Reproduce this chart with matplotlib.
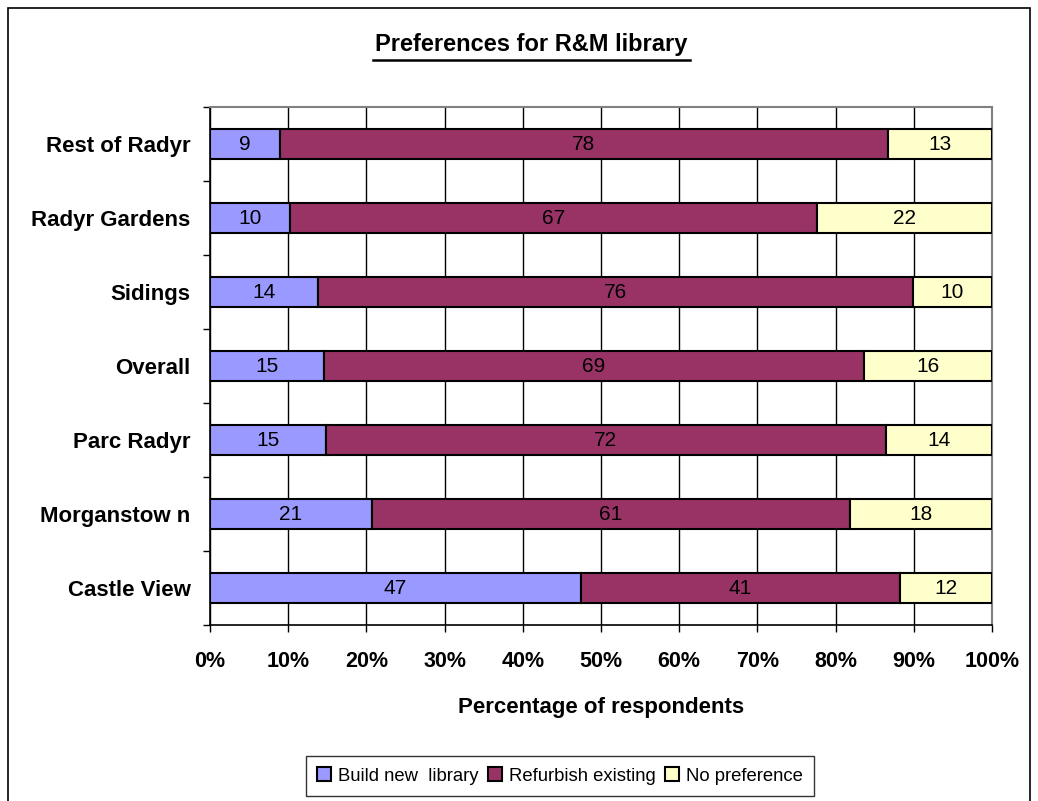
import numpy as np
import matplotlib.pyplot as plt
from matplotlib.patches import Rectangle

plt.rcParams['font.family'] = ['Liberation Sans', 'DejaVu Sans']

areas = ["Rest of Radyr", "Radyr Gardens", "Sidings", "Overall",
         "Parc Radyr", "Morganstow n", "Castle View"]
build_new = [8.95, 10.2, 13.8, 14.6, 14.8, 20.7, 47.4]
refurbish = [77.75, 67.4, 76.1, 69.0, 71.6, 61.1, 40.8]
no_pref = [13.3, 22.4, 10.1, 16.4, 13.6, 18.2, 11.8]
series_names = ["Build new  library", "Refurbish existing", "No preference"]
colors = ["#9999FF", "#993366", "#FFFFCC"]

fig = plt.figure(figsize=(10.38, 8.01), dpi=100)
ax = fig.add_axes([210/1038, 1-625/801, 782/1038, 518/801])

# outer chart frame
fig.patches.append(Rectangle((8/1038, -0.1), 1022/1038, 1.1 - 8/801, transform=fig.transFigure,
                             fill=False, edgecolor='black', lw=1.2))

y = np.arange(len(areas))[::-1]
left = np.zeros(len(areas))
for vals, name, c in zip([build_new, refurbish, no_pref], series_names, colors):
    vals = np.array(vals)
    bars = ax.barh(y, vals, left=left, height=0.41, color=c, edgecolor='black',
                   lw=1.5, label=name, zorder=3)
    for b, v in zip(bars, vals):
        ax.text(b.get_x() + b.get_width()/2, b.get_y() + b.get_height()/2,
                f"{round(v)}", ha='center', va='center', fontsize=15, zorder=4)
    left += vals

ax.set_xlim(0, 100)
ax.set_ylim(-0.5, len(areas) - 0.5)
ax.set_xticks(np.arange(0, 101, 10))
ax.set_xticklabels([f"{t}%" for t in range(0, 101, 10)], fontsize=15.5, fontweight='bold')
ax.set_yticks(y)
ax.set_yticklabels(areas, fontsize=16, fontweight='bold')
ax.set_yticks(np.arange(-0.5, len(areas), 1), minor=True)
ax.tick_params(axis='y', which='major', length=0, pad=14)
ax.tick_params(axis='y', which='minor', length=5, width=1)
ax.tick_params(axis='x', length=5, width=1, pad=14)
ax.grid(axis='x', color='black', lw=1, zorder=0)
for s in ['top', 'right']:
    ax.spines[s].set_color('#808080')
    ax.spines[s].set_linewidth(1.5)
ax.spines['left'].set_linewidth(1.2)
ax.spines['bottom'].set_linewidth(1.2)

ax.set_xlabel("Percentage of respondents", fontsize=16, fontweight='bold', labelpad=18)
fig.text(531/1038, 1-45/801, "Preferences for R&M library", ha='center', va='center',
         fontsize=17, fontweight='bold')
# underline the title
fig.add_artist(plt.Line2D([373/1038, 690/1038], [1-60/801, 1-60/801], color='black', lw=1.8))

leg = fig.legend(loc='center', bbox_to_anchor=(560/1038, 1-776/801), ncol=3, fontsize=13.3,
                 frameon=True, fancybox=False, edgecolor='black', handlelength=0.75,
                 handleheight=0.75, handletextpad=0.4, columnspacing=0.5, borderpad=0.6)
leg.get_frame().set_linewidth(1)

fig.savefig("out.png", dpi=100)
